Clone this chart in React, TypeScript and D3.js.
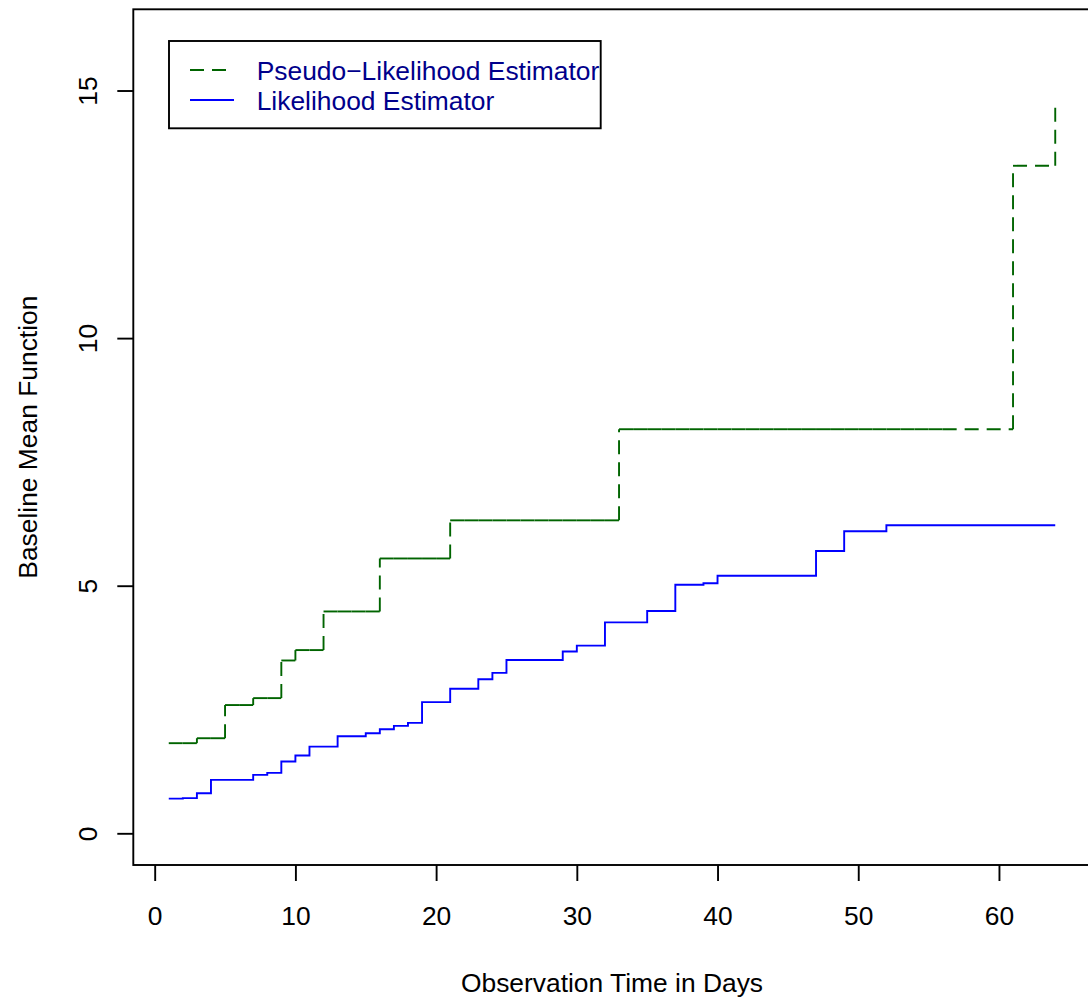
import React, { useEffect, useRef } from 'react'
import * as d3 from 'd3'

// jump points of the pseudo-likelihood estimator (day, value)
const pseudoDays = [1, 3, 5, 7, 9, 10, 12, 16, 21, 33, 61, 64]
const pseudoValues = [1.82, 1.92, 2.59, 2.73, 3.49, 3.7, 4.48, 5.55, 6.32, 8.16, 13.48, 14.71]

// likelihood estimator
const likDays = [1, 2, 3, 4, 7, 8, 9, 10, 11, 13, 15, 16, 17, 18, 19, 21, 23, 24, 25, 29, 30, 32, 35, 37, 39, 40, 47, 49, 52, 64]
const likValues = [
  0.7, 0.71, 0.81, 1.08, 1.18, 1.22, 1.45, 1.57, 1.75, 1.96, 2.02, 2.1, 2.17, 2.23, 2.65, 2.92, 3.11, 3.24, 3.5, 3.67,
  3.79, 4.26, 4.49, 5.02, 5.05, 5.2, 5.7, 6.1, 6.22, 6.22,
]

// days where the step function has knots (segments drawn one by one)
const observationDays = [
  1, 2, 3, 4, 5, 6, 7, 8, 9, 10, 11, 12, 13, 14, 15, 16, 17, 18, 19, 20, 21, 22, 23, 24, 25, 26, 27, 28, 29, 30, 31,
  32, 33, 34, 35, 36, 37, 38, 39, 40, 41, 42, 43, 44, 45, 46, 47, 48, 49, 50, 51, 52, 53, 54, 55, 56, 61, 64,
]

const xTicks = [0, 10, 20, 30, 40, 50, 60]
const yTicks = [0, 5, 10, 15]

const legendLabels = ['Pseudo\u2212Likelihood Estimator', 'Likelihood Estimator']

const FONT = '"Liberation Sans", Arial, Helvetica, sans-serif'
const GREEN = '#006400'
const BLUE = '#0000FF'
const DASH = '14 8'
const LW = 1.9

export default function App() {
  const ref = useRef<SVGSVGElement | null>(null)

  useEffect(() => {
    if (!ref.current) return
    const svg = d3.select(ref.current)
    svg.selectAll('*').remove()

    const x = d3.scaleLinear().domain([-1.52, 66.52]).range([133.3, 1090.7])
    const y = d3.scaleLinear().domain([-0.64, 16.64]).range([865, 9.3])

    svg.append('rect').attr('width', 1088).attr('height', 1000).attr('fill', '#fff')

    // x axis
    const gx = svg
      .append('g')
      .attr('transform', `translate(0,${y.range()[0]})`)
      .call(d3.axisBottom(x).tickValues(xTicks).tickSize(16).tickFormat(d3.format('d')))
    gx.select('.domain').remove()
    gx.selectAll('line').attr('stroke', '#000').attr('stroke-width', LW)
    gx.selectAll('text')
      .attr('y', 60)
      .attr('dy', 0)
      .attr('fill', '#000')
      .style('font-family', FONT)
      .style('font-size', '26.4px')

    // y axis
    const gy = svg
      .append('g')
      .attr('transform', `translate(${x.range()[0]},0)`)
      .call(d3.axisLeft(y).tickValues(yTicks).tickSize(16).tickFormat(d3.format('d')))
    gy.select('.domain').remove()
    gy.selectAll('line').attr('stroke', '#000').attr('stroke-width', LW)
    gy.selectAll('text')
      .attr('x', 0)
      .attr('dy', 0)
      .attr('transform', 'translate(-36.6,0) rotate(-90)')
      .attr('text-anchor', 'middle')
      .attr('fill', '#000')
      .style('font-family', FONT)
      .style('font-size', '26.4px')

    // likelihood estimator (solid)
    const line = d3
      .line<number>()
      .x((_, i) => x(likDays[i]))
      .y((d) => y(d))
      .curve(d3.curveStepAfter)
    svg
      .append('path')
      .attr('d', line(likValues))
      .attr('fill', 'none')
      .attr('stroke', BLUE)
      .attr('stroke-width', LW)

    // pseudo-likelihood estimator: dashed step function, each segment on its own
    const stepAt = (t: number) => pseudoValues[d3.bisectRight(pseudoDays, t) - 1]
    const knots = Array.from(new Set([...observationDays, ...pseudoDays])).sort((a, b) => a - b)
    const horiz = d3.pairs(knots).map(([a, b]) => ({ x0: a, x1: b, v: stepAt(a) }))
    const vert = pseudoDays.slice(1).map((d, i) => ({ d, v0: pseudoValues[i], v1: pseudoValues[i + 1] }))
    const gp = svg.append('g').attr('stroke', GREEN).attr('stroke-width', LW).attr('stroke-dasharray', DASH)
    gp.selectAll('line.h')
      .data(horiz)
      .enter()
      .append('line')
      .attr('class', 'h')
      .attr('x1', (d) => x(d.x0))
      .attr('x2', (d) => x(d.x1))
      .attr('y1', (d) => y(d.v))
      .attr('y2', (d) => y(d.v))
    gp.selectAll('line.v')
      .data(vert)
      .enter()
      .append('line')
      .attr('class', 'v')
      .attr('x1', (d) => x(d.d))
      .attr('x2', (d) => x(d.d))
      .attr('y1', (d) => y(d.v0))
      .attr('y2', (d) => y(d.v1))

    // plot box
    svg
      .append('rect')
      .attr('x', x.range()[0])
      .attr('y', y.range()[1])
      .attr('width', x.range()[1] - x.range()[0])
      .attr('height', y.range()[0] - y.range()[1])
      .attr('fill', 'none')
      .attr('stroke', '#000')
      .attr('stroke-width', LW)

    // axis titles
    svg
      .append('text')
      .attr('x', (x.range()[0] + x.range()[1]) / 2)
      .attr('y', 991.7)
      .attr('text-anchor', 'middle')
      .style('font-family', FONT)
      .style('font-size', '26.4px')
      .text('Observation Time in Days')
    svg
      .append('text')
      .attr('transform', `translate(36.7,${(y.range()[0] + y.range()[1]) / 2}) rotate(-90)`)
      .attr('text-anchor', 'middle')
      .style('font-family', FONT)
      .style('font-size', '26.4px')
      .text('Baseline Mean Function')

    // legend
    const lg = svg.append('g').attr('transform', 'translate(169,41)')
    lg.append('rect')
      .attr('width', 431.7)
      .attr('height', 87.3)
      .attr('fill', '#fff')
      .attr('stroke', '#000')
      .attr('stroke-width', LW)
    const styles = [
      { color: GREEN, dash: DASH },
      { color: BLUE, dash: null },
    ]
    legendLabels.forEach((label, i) => {
      const row = lg.append('g').attr('transform', `translate(0,${29 + i * 30})`)
      row
        .append('line')
        .attr('x1', 21)
        .attr('x2', 65)
        .attr('stroke', styles[i].color)
        .attr('stroke-width', LW)
        .attr('stroke-dasharray', styles[i].dash)
      row
        .append('text')
        .attr('x', 87.7)
        .attr('y', 10)
        .attr('fill', '#00008B')
        .style('font-family', FONT)
        .style('font-size', '26.4px')
        .text(label)
    })
  }, [])

  return (
    <svg
      ref={ref}
      width={1088}
      height={1000}
      style={{ position: 'absolute', left: 0, top: 0, display: 'block' }}
    />
  )
}
